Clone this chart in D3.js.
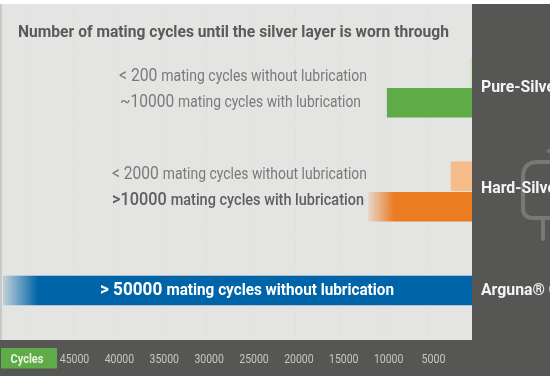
<!DOCTYPE html>
<html>
<head>
<meta charset="utf-8">
<script src="https://cdn.jsdelivr.net/npm/d3@7"></script>
<style>
    html, body { margin: 0; padding: 0; background: #fff; }
    svg { display: block; }
    text { font-family: Roboto, "Liberation Sans", sans-serif; }
</style>
</head>
<body>
<div id="chart"></div>
<script>
const title = 'Number of mating cycles until the silver layer is worn through';
const products = ['Pure-Silver', 'Hard-Silver', 'Arguna® C'];
const conditions = ['without', 'with'];
const ticks = [45000, 40000, 35000, 30000, 25000, 20000, 15000, 10000, 5000];
const gridTicks = [50000, 45000, 40000, 35000, 30000, 25000, 20000, 15000, 10000, 5000];

// bar lengths read off the picture, not the label wording
const barProduct = ['Pure-Silver', 'Pure-Silver', 'Hard-Silver', 'Hard-Silver', 'Arguna® C'];
const barCondition = ['without', 'with', 'without', 'with', 'without'];
const barCycles = [350, 9700, 2500, 11800, 53000];
const barColors = ['#cfe4b9', '#5fab46', '#f6bd8a', '#ec7c23', '#0065a8'];
const labelPrefix = ['< 200', '~10000', '< 2000', '>10000', '> 50000'];
const labelRest = ['mating cycles without lubrication', 'mating cycles with lubrication',
    'mating cycles without lubrication', 'mating cycles with lubrication',
    'mating cycles without lubrication'];

const width = 550;
const height = 378;
const panelX = 472;
const plotTop = 4;
const plotBottom = 340;
const bandBottom = 376;

const x = d3.scaleLinear().domain([0, 50000]).range([473, 29]);
// the strip labels drift a little from the gridlines in the original
const xStrip = d3.scaleLinear().domain([45000, 5000]).range([74, 433]);
const y = d3.scaleBand().domain(products).range([57.5, 326.5]).paddingInner(0.413);
const ySub = d3.scaleBand().domain(conditions).range([0, y.bandwidth()]);

const svg = d3.select('#chart').append('svg')
    .attr('width', width)
    .attr('height', height);

const defs = svg.append('defs');
const blur = defs.append('filter').attr('id', 'soft')
    .attr('x', '-5%').attr('y', '-5%').attr('width', '110%').attr('height', '110%');
blur.append('feGaussianBlur').attr('stdDeviation', 0.5);

function fade(id, color, x0, x1, startOpacity) {
    const g = defs.append('linearGradient').attr('id', id)
        .attr('gradientUnits', 'userSpaceOnUse')
        .attr('x1', x0).attr('x2', x1).attr('y1', 0).attr('y2', 0);
    g.append('stop').attr('offset', 0).attr('stop-color', color).attr('stop-opacity', startOpacity);
    g.append('stop').attr('offset', 1).attr('stop-color', color).attr('stop-opacity', 1);
}
fade('fadeOrange', barColors[3], x(barCycles[3]), x(barCycles[3]) + 26, 0.12);
fade('fadeBlue', barColors[4], 3, 38, 0.15);

const root = svg.append('g').attr('filter', 'url(#soft)');

// backgrounds
root.append('rect').attr('x', 0).attr('y', plotTop).attr('width', panelX).attr('height', plotBottom - plotTop).attr('fill', '#c9c9c8');
root.append('rect').attr('x', 2).attr('y', plotTop).attr('width', panelX - 2).attr('height', plotBottom - plotTop).attr('fill', '#e4e4e3');
root.append('rect').attr('x', panelX).attr('y', plotTop).attr('width', width - panelX + 5).attr('height', bandBottom - plotTop).attr('fill', '#565655');
root.append('rect').attr('x', -5).attr('y', plotBottom).attr('width', panelX + 5).attr('height', bandBottom - plotBottom).attr('fill', '#565655');

// dotted gridlines
root.append('g').selectAll('line')
    .data(gridTicks)
    .join('line')
    .attr('x1', d => x(d)).attr('x2', d => x(d))
    .attr('y1', plotTop + 2).attr('y2', plotBottom - 3)
    .attr('stroke', '#d9d9d8')
    .attr('stroke-dasharray', '1.5,3');

// bars
root.append('g').selectAll('rect')
    .data(barCycles)
    .join('rect')
    .attr('x', d => Math.max(x(d), 3))
    .attr('y', (d, i) => barProduct[i] === 'Arguna® C'
        ? y(barProduct[i]) + y.bandwidth() / 2 - ySub.bandwidth() / 2 - 5
        : y(barProduct[i]) + ySub(barCondition[i]))
    .attr('width', d => panelX - Math.max(x(d), 3))
    .attr('height', ySub.bandwidth() - 1)
    .attr('fill', (d, i) => i === 3 ? 'url(#fadeOrange)' : i === 4 ? 'url(#fadeBlue)' : barColors[i]);

// title and bar labels
root.append('text')
    .attr('x', 18).attr('y', 37)
    .attr('textLength', 431).attr('lengthAdjust', 'spacingAndGlyphs')
    .attr('font-size', 17).attr('font-weight', 700).attr('fill', '#5a5a5a')
    .text(title);

const labelX = [119, 120, 112, 112, 100];
const labelEnd = [367, 361, 367, 364, 394];
const labelY = [81, 107, 179, 205, 295];
const labelFill = ['#7a7a7a', '#7a7a7a', '#7a7a7a', '#5e5e5e', '#ffffff'];

const labels = root.append('g').selectAll('text')
    .data(labelRest)
    .join('text')
    .attr('x', (d, i) => labelX[i])
    .attr('y', (d, i) => labelY[i])
    .attr('textLength', (d, i) => labelEnd[i] - labelX[i])
    .attr('lengthAdjust', 'spacingAndGlyphs')
    .attr('font-size', 16.5)
    .attr('font-weight', (d, i) => i === 4 ? 700 : i === 3 ? 500 : 400)
    .attr('fill', (d, i) => labelFill[i]);
labels.append('tspan').attr('font-size', 18.5).text((d, i) => labelPrefix[i] + ' ');
labels.append('tspan').text(d => d);

// plug outline behind the product names
root.append('path')
    .attr('d', 'M563,162 H538 Q523,162 523,177 V208 Q523,218 533,218 H553 Q563,218 563,208 V177 Q563,162 550,162 M543,218 V239')
    .attr('fill', 'none')
    .attr('stroke', '#787877')
    .attr('stroke-width', 4)
    .attr('stroke-linecap', 'round');
root.append('circle').attr('cx', 549).attr('cy', 151).attr('r', 2).attr('fill', '#787877');

// product names, cut by the edge of the picture
const nameY = [92, 193, 295];
root.append('g').selectAll('text')
    .data(products)
    .join('text')
    .attr('x', 481)
    .attr('y', (d, i) => nameY[i])
    .attr('font-size', 16.5).attr('font-weight', 700).attr('fill', '#f4f4f4')
    .attr('transform', 'translate(481,0) scale(0.96,1) translate(-481,0)')
    .text(d => d);

// cycles strip
root.append('rect').attr('x', 1).attr('y', 348).attr('width', 56).attr('height', 20.5).attr('fill', '#5fab46');
root.append('text')
    .attr('x', 27).attr('y', 362.5).attr('text-anchor', 'middle')
    .attr('font-size', 13).attr('font-weight', 700).attr('fill', '#e8f3e0')
    .attr('textLength', 33).attr('lengthAdjust', 'spacingAndGlyphs')
    .text('Cycles');

const axis = root.append('g')
    .attr('transform', 'translate(0,362.5)')
    .call(d3.axisBottom(xStrip).tickValues(ticks).tickFormat(d3.format('d')).tickSize(0).tickPadding(0));
axis.select('.domain').remove();
axis.selectAll('text')
    .attr('y', 0).attr('dy', 0)
    .attr('font-family', 'Roboto, "Liberation Sans", sans-serif')
    .attr('font-size', 13)
    .attr('fill', '#c6c6c5')
    .attr('textLength', d => d === 5000 ? 24 : 29.5)
    .attr('lengthAdjust', 'spacingAndGlyphs');
</script>
</body>
</html>
